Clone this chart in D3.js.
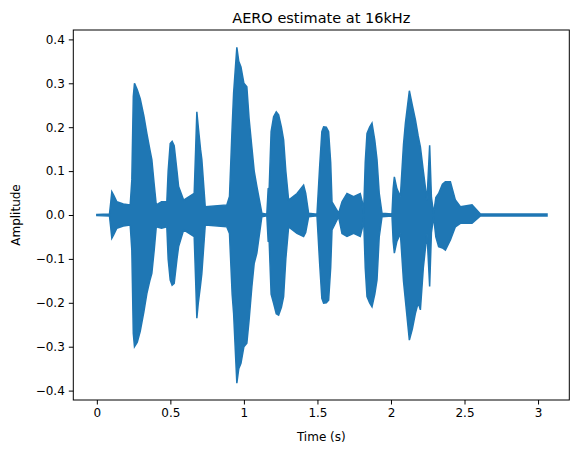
<!DOCTYPE html>
<html>
<head>
<meta charset="utf-8">
<script src="https://cdn.jsdelivr.net/npm/d3@7"></script>
<style>
  body { margin: 0; background: #fff; }
  text { font-family: "DejaVu Sans", sans-serif; }
</style>
</head>
<body>
<svg id="chart" width="579" height="453"></svg>
<script>
// Envelope of the waveform (time in s, upper/lower amplitude)
const times = [
  0.000, 0.086, 0.095, 0.102, 0.115, 0.136, 0.180, 0.227,
  0.238, 0.248, 0.256, 0.275, 0.295, 0.320, 0.340, 0.360, 0.374, 0.390, 0.404,
  0.440, 0.476,
  0.485, 0.499, 0.512, 0.526, 0.545, 0.556, 0.590, 0.662,
  0.672, 0.680, 0.690, 0.705, 0.714, 0.737, 0.884, 0.902,
  0.920, 0.930, 0.952, 0.965, 0.980, 1.000, 1.020, 1.035, 1.054, 1.070, 1.088, 1.122,
  1.156, 1.165, 1.172, 1.185, 1.202, 1.220, 1.236, 1.255, 1.270, 1.285, 1.304,
  1.361, 1.406, 1.420, 1.440, 1.497,
  1.505, 1.515, 1.530, 1.542, 1.560, 1.576, 1.590, 1.599,
  1.644, 1.667, 1.701, 1.746, 1.791, 1.805, 1.814,
  1.825, 1.837, 1.855, 1.871, 1.890, 1.905, 1.920, 1.939,
  2.007, 2.015, 2.023, 2.040, 2.064,
  2.085, 2.098, 2.125, 2.145, 2.166, 2.185, 2.200, 2.220, 2.245, 2.263, 2.275, 2.290,
  2.305, 2.324, 2.350, 2.370, 2.404, 2.438, 2.472, 2.551, 2.608, 3.061
];
const upper = [
  0.001, 0.002, 0.030, 0.053, 0.045, 0.030, 0.025, 0.023,
  0.080, 0.270, 0.300, 0.285, 0.265, 0.225, 0.186, 0.150, 0.126, 0.070, 0.023,
  0.030, 0.030,
  0.100, 0.163, 0.168, 0.158, 0.100, 0.065, 0.034, 0.049,
  0.150, 0.235, 0.200, 0.150, 0.126, 0.019, 0.023, 0.042,
  0.200, 0.277, 0.382, 0.350, 0.337, 0.300, 0.292, 0.220, 0.155, 0.100, 0.065, 0.004,
  0.002, 0.060, 0.061, 0.190, 0.224, 0.235, 0.228, 0.200, 0.171, 0.100, 0.034,
  0.049, 0.068, 0.050, 0.004, 0.002,
  0.050, 0.110, 0.190, 0.201, 0.200, 0.190, 0.120, 0.030,
  0.004, 0.030, 0.049, 0.042, 0.049, 0.030, 0.004,
  0.120, 0.186, 0.200, 0.209, 0.170, 0.126, 0.050, 0.004,
  0.002, 0.060, 0.087, 0.060, 0.042,
  0.160, 0.209, 0.283, 0.250, 0.217, 0.180, 0.155, 0.100, 0.034, 0.159, 0.040, 0.004,
  0.040, 0.049, 0.070, 0.076, 0.076, 0.034, 0.019, 0.023, 0.002, 0.002
];
const lower = [
  -0.001, -0.002, -0.030, -0.053, -0.045, -0.030, -0.025, -0.023,
  -0.080, -0.270, -0.300, -0.290, -0.265, -0.220, -0.179, -0.150, -0.133, -0.080, -0.027,
  -0.030, -0.027,
  -0.100, -0.148, -0.160, -0.156, -0.100, -0.072, -0.034, -0.049,
  -0.150, -0.235, -0.200, -0.160, -0.133, -0.023, -0.027, -0.042,
  -0.180, -0.224, -0.383, -0.350, -0.338, -0.300, -0.292, -0.240, -0.164, -0.110, -0.087, -0.004,
  -0.002, -0.060, -0.061, -0.180, -0.201, -0.225, -0.228, -0.210, -0.186, -0.100, -0.027,
  -0.042, -0.049, -0.040, -0.004, -0.002,
  -0.050, -0.110, -0.190, -0.201, -0.200, -0.194, -0.120, -0.034,
  -0.004, -0.042, -0.049, -0.042, -0.049, -0.030, -0.004,
  -0.120, -0.186, -0.200, -0.209, -0.180, -0.148, -0.050, -0.004,
  -0.002, -0.060, -0.087, -0.060, -0.042,
  -0.150, -0.194, -0.285, -0.260, -0.224, -0.200, -0.216, -0.120, -0.042, -0.163, -0.040, -0.004,
  -0.050, -0.072, -0.075, -0.080, -0.057, -0.027, -0.019, -0.019, -0.002, -0.002
];
const xTicks = [0, 0.5, 1, 1.5, 2, 2.5, 3];
const yTicks = [-0.4, -0.3, -0.2, -0.1, 0.0, 0.1, 0.2, 0.3, 0.4];

const plotLeft = 73.3, plotRight = 569.3, plotTop = 30, plotBottom = 400;
const svg = d3.select("#chart");

const x = d3.scaleLinear().domain([-0.16, 3.2125]).range([plotLeft, plotRight]);
const y = d3.scaleLinear().domain([-0.4214, 0.4214]).range([plotBottom, plotTop]);

const data = times.map((t, i) => ({ t, hi: upper[i], lo: lower[i] }));

const area = d3.area()
  .x(d => x(d.t))
  .y0(d => y(d.lo))
  .y1(d => y(d.hi));

svg.append("path")
  .datum(data)
  .attr("d", area)
  .attr("fill", "#1f77b4")
  .attr("stroke", "#1f77b4")
  .attr("stroke-width", 1.5);

// Axes
const xAxis = svg.append("g")
  .attr("transform", `translate(0,${plotBottom})`)
  .call(d3.axisBottom(x).tickValues(xTicks).tickFormat(d3.format("")).tickSize(4.5).tickPadding(4));
const yAxis = svg.append("g")
  .attr("transform", `translate(${plotLeft},0)`)
  .call(d3.axisLeft(y).tickValues(yTicks).tickFormat(d3.format(".1f")).tickSize(4.5).tickPadding(4));

[xAxis, yAxis].forEach(a => {
  a.select(".domain").remove();
  a.selectAll("text").attr("font-size", 12).attr("fill", "#000")
    .style("font-family", "DejaVu Sans, sans-serif");
  a.selectAll("line").attr("stroke", "#000").attr("stroke-width", 1);
});

svg.append("rect")
  .attr("x", plotLeft).attr("y", plotTop)
  .attr("width", plotRight - plotLeft).attr("height", plotBottom - plotTop)
  .attr("fill", "none").attr("stroke", "#000").attr("stroke-width", 1);

svg.append("text")
  .attr("x", (plotLeft + plotRight) / 2).attr("y", 23)
  .attr("text-anchor", "middle").attr("font-size", 14.5)
  .text("AERO estimate at 16kHz");

svg.append("text")
  .attr("x", (plotLeft + plotRight) / 2).attr("y", 441)
  .attr("text-anchor", "middle").attr("font-size", 12)
  .text("Time (s)");

svg.append("text")
  .attr("transform", `translate(20,${(plotTop + plotBottom) / 2}) rotate(-90)`)
  .attr("text-anchor", "middle").attr("font-size", 12)
  .text("Amplitude");
</script>
</body>
</html>
